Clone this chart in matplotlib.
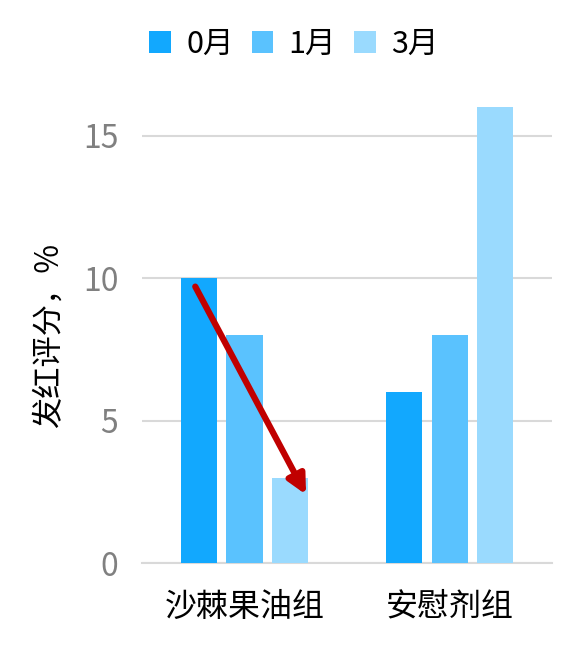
import numpy as np
import matplotlib.pyplot as plt

plt.rcParams['font.family'] = ['Noto Sans CJK SC', 'DejaVu Sans']

groups = ['沙棘果油组', '安慰剂组']
months = ['0月', '1月', '3月']
month0 = [10, 6]
month1 = [8, 8]
month3 = [3, 16]
colors = ['#12A8FE', '#5AC2FE', '#9ADAFE']

fig = plt.figure(figsize=(5.77, 6.49), dpi=100)
ax = fig.add_axes([0.246, 0.1325, 0.711, 0.7025])

x = np.arange(len(groups))
w = 0.176
step = 0.222
for i, (vals, lab, c) in enumerate(zip([month0, month1, month3], months, colors)):
    ax.bar(x + (i - 1) * step, vals, w, color=c, label=lab, zorder=3)

ax.set_xlim(-0.5, 1.5)
ax.set_ylim(0, 16)
ax.set_yticks([0, 5, 10, 15])
ax.grid(axis='y', color='#D9D9D9', linewidth=1.5, zorder=0)
for s in ['top', 'right', 'left']:
    ax.spines[s].set_visible(False)
ax.spines['bottom'].set_color('#D9D9D9')
ax.spines['bottom'].set_linewidth(1.5)
ax.tick_params(axis='both', length=0, labelsize=23)
ax.tick_params(axis='y', labelcolor='#808080', pad=17)
ax.tick_params(axis='x', pad=20)
ax.set_xticks(x)
ax.set_xticklabels(groups)
ax.set_ylabel('发红评分，%', fontsize=22.5, labelpad=13)

# trend arrow over the first group
ax.annotate('', xy=(0.30, 2.4), xytext=(-0.24, 9.7),
            arrowprops=dict(arrowstyle='-|>', color='#C00000', lw=4.5,
                            mutation_scale=28, shrinkA=0, shrinkB=0),
            zorder=5)

handles, labels = ax.get_legend_handles_labels()
fig.legend(handles, labels, loc='center left', bbox_to_anchor=(0.259, 0.932), ncol=3,
           frameon=False, fontsize=22, handlelength=0.7, handleheight=0.7,
           handletextpad=0.5, columnspacing=0.6, borderaxespad=0, borderpad=0)

plt.savefig('out.png', dpi=100)
